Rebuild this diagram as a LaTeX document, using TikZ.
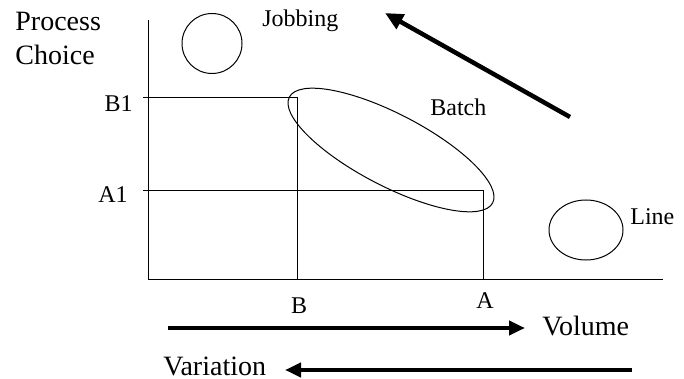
\documentclass[tikz,border=0pt]{standalone}
\usepackage{fontspec}
\setmainfont{Liberation Serif}
\usepackage{tikz}
\usetikzlibrary{shapes.geometric,arrows.meta,positioning}

\begin{document}
\begin{tikzpicture}[x=0.5pt, y=-0.5pt,
    small/.style={font=\fontsize{12}{14}\selectfont, inner sep=0pt},
    big/.style={font=\fontsize{14}{17}\selectfont, inner sep=0pt},
    axis/.style={line width=0.5pt},
    ring/.style={draw, line width=0.5pt, inner sep=0pt},
    arrow/.style={-{Triangle[length=8pt, width=7pt]}, line width=2pt}]
  \useasboundingbox (0,0) rectangle (684,379);
  % axes and reference lines
  \coordinate (O) at (148,279);
  \coordinate (ytop) at (148,20);
  \coordinate (xend) at (663,279);
  \coordinate (b1) at (143,98);
  \coordinate (a1) at (143,191);
  \coordinate (bb) at (297,98);
  \coordinate (aa) at (483,191);
  \draw[axis] (ytop) -- (O) -- (xend);
  \draw[axis] (b1) -- (bb) -- (bb |- O);
  \draw[axis] (a1) -- (aa) -- (aa |- O);
  % process regions
  \node[ring, circle, minimum size=30pt] (jobring) at (212,43.5) {};
  \node[ring, ellipse, rotate=-27.5, minimum width=114.6pt, minimum height=36pt] (batchring) at (391,150) {};
  \node[ring, ellipse, minimum width=37pt, minimum height=30pt] (linering) at (586,230) {};
  % labels
  \node[big, anchor=base west] (process) at (15,31) {Process};
  \node[big, anchor=base west] (choice) at (15,65) {Choice};
  \node[small, anchor=base west] (jobbing) at (262,27) {Jobbing};
  \node[small, anchor=base west] (batch) at (430,116) {Batch};
  \node[small, anchor=base west] (line) at (630,224) {Line};
  \node[small, anchor=base east] (B1) at (133,112) {B1};
  \node[small, anchor=base east] (A1) at (128,202) {A1};
  \node[small, anchor=base] (B) at (299,313) {B};
  \node[small, anchor=base] (A) at (485,308) {A};
  \node[big, anchor=base west] (volume) at (542,335) {Volume};
  \node[big, anchor=base west] (variation) at (163,375) {Variation};
  % trend arrows
  \coordinate (diagfrom) at (570,117);
  \coordinate (diagto) at (385,13);
  \coordinate (volfrom) at (168,328);
  \coordinate (volto) at (525,328);
  \coordinate (varfrom) at (632,370);
  \coordinate (varto) at (285,370);
  \draw[arrow, -{Triangle[length=9pt, width=8pt]}, line width=2.25pt] (diagfrom) -- (diagto);
  \draw[arrow] (volfrom) -- (volto);
  \draw[arrow] (varfrom) -- (varto);
\end{tikzpicture}
\end{document}
